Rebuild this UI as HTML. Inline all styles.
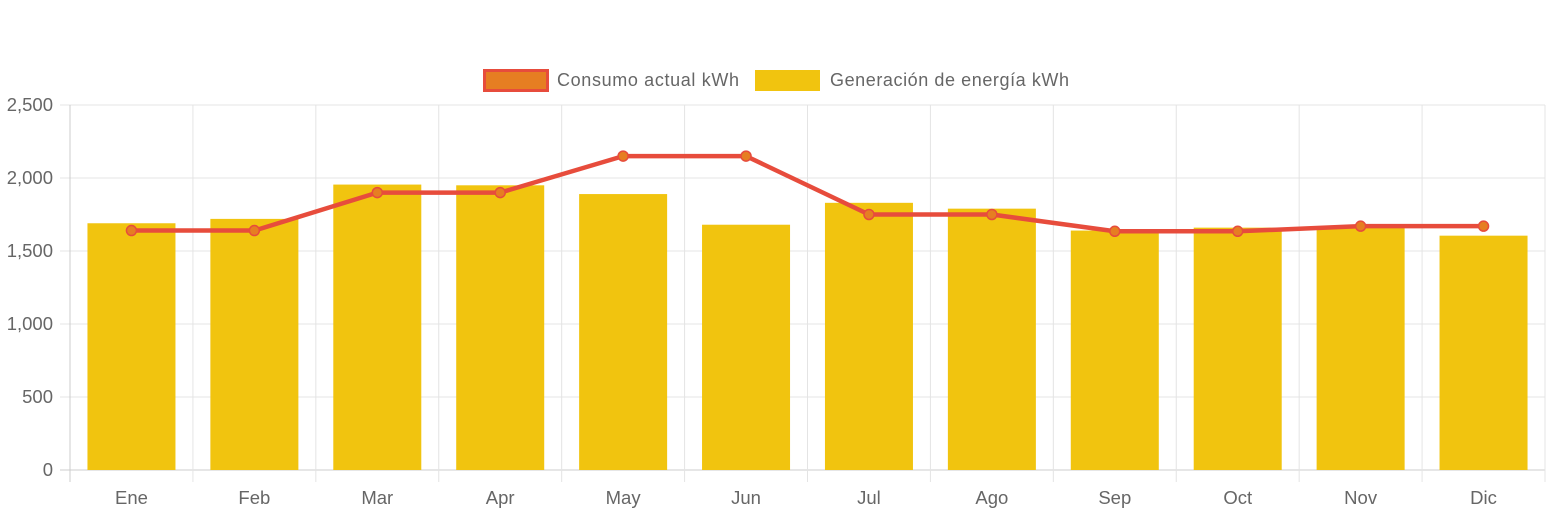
<!DOCTYPE html>
<html><head><meta charset="utf-8"><style>
body{margin:0;background:#fff;font-family:"Liberation Sans",sans-serif;}
svg text{font-family:"Liberation Sans",sans-serif;fill:#666;}
</style></head><body>
<svg id="chart" width="1553" height="516">
<g id="legend">
<g>
<rect x="484.5" y="70.5" width="63" height="20" fill="#e67e22" stroke="#e74c3c" stroke-width="3"/>
<text x="557" y="86" font-size="18" textLength="182">Consumo actual kWh</text>
</g>
<g>
<rect x="755" y="70" width="65" height="21" fill="#f1c40f"/>
<text x="830" y="86" font-size="18" textLength="239">Generación de energía kWh</text>
</g>
</g>
<g id="grid"></g><g id="bars"></g><g id="line"></g><g id="axes"></g>
</svg>
<script>
const categories=["Ene","Feb","Mar","Apr","May","Jun","Jul","Ago","Sep","Oct","Nov","Dic"];
const generacion=[1690,1720,1955,1950,1890,1680,1830,1790,1640,1660,1670,1605];
const consumo=[1640,1640,1900,1900,2150,2150,1750,1750,1635,1635,1670,1670];
const yTicks=[0,500,1000,1500,2000,2500];
const NS="http://www.w3.org/2000/svg";
const L=70,R=1545,T=105,B=470,MAX=2500;
const bw=(R-L)/categories.length;
const x=i=>L+bw*(i+0.5);
const y=v=>B-(v/MAX)*(B-T);
function mk(tag,at,parent){const e=document.createElementNS(NS,tag);for(const k in at)e.setAttribute(k,at[k]);document.getElementById(parent).appendChild(e);return e;}
yTicks.forEach(t=>{
 const g=mk('line',{x1:60,x2:R,y1:y(t),y2:y(t),stroke:t===0?'#ccc':'#e4e4e4','stroke-width':1},'grid');
 
 
 const tx=mk('text',{x:53,y:y(t)+6,'text-anchor':'end','font-size':18.5},'axes');
 tx.textContent=t.toLocaleString('en-US');
 
 
});
for(let i=0;i<=categories.length;i++){
 const g=mk('line',{x1:L+bw*i,x2:L+bw*i,y1:T,y2:B+12,stroke:i===0?'#ccc':'#e4e4e4','stroke-width':1},'grid');
 
 
}
categories.forEach((c,i)=>{
 const r=mk('rect',{x:x(i)-44,y:y(generacion[i]),width:88,height:B-y(generacion[i]),fill:'#f1c40f'},'bars');
 
 
 const tx=mk('text',{x:x(i),y:504,'text-anchor':'middle','font-size':18.5},'axes');
 tx.textContent=c;
 
 
});
const p=mk('polyline',{points:consumo.map((v,i)=>x(i)+','+y(v)).join(' '),fill:'none',stroke:'#e74c3c','stroke-width':4.5,'stroke-linejoin':'round'},'line');


consumo.forEach((v,i)=>{
 const c=mk('circle',{cx:x(i),cy:y(v),r:5,fill:'#e67e22',stroke:'#e74c3c','stroke-width':1.5},'line');
 
 
});
</script>
</body></html>
